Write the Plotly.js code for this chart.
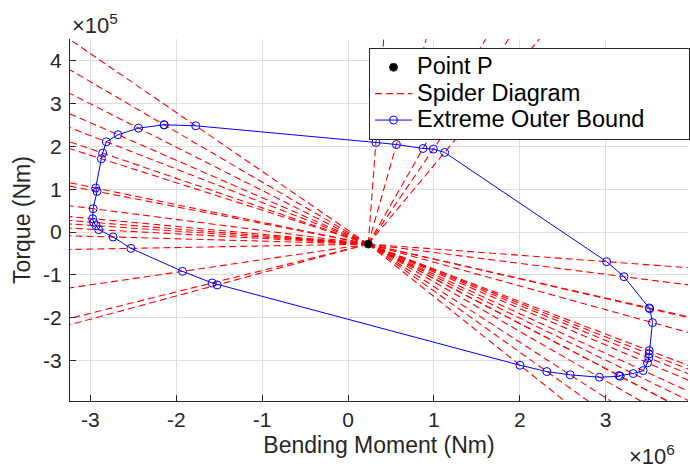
<!DOCTYPE html>
<html>
<head>
<meta charset="utf-8">
<script src="https://cdn.plot.ly/plotly-3.0.1.min.js"></script>
<style>html,body{margin:0;padding:0;background:#fff}#chart{width:690px;height:470px}</style>
</head>
<body>
<div id="chart"></div>
<script>
// Point P (Nm)
var pointX = [2.36e5];
var pointY = [-2.8e4];

// Extreme outer bound (Bending Moment Nm, Torque Nm)
var boundX = [-2.142e6, -1.774e6, 0.325e6, 0.564e6, 0.874e6, 0.994e6, 1.126e6,
  3.012e6, 3.214e6, 3.508e6, 3.515e6, 3.546e6, 3.508e6, 3.508e6, 3.504e6, 3.488e6,
  3.438e6, 3.322e6, 3.156e6, 3.170e6, 2.928e6, 2.588e6, 2.316e6, 2.003e6,
  -1.524e6, -1.582e6, -1.927e6, -2.528e6, -2.737e6, -2.904e6, -2.934e6, -2.962e6,
  -2.974e6, -2.969e6, -2.923e6, -2.939e6, -2.873e6, -2.858e6, -2.815e6, -2.679e6, -2.440e6];
var boundY = [2.506e5, 2.483e5, 2.093e5, 2.046e5, 1.953e5, 1.939e5, 1.860e5,
  -0.691e5, -1.041e5, -1.771e5, -1.790e5, -2.114e5, -2.767e5, -2.844e5, -2.937e5, -3.054e5,
  -3.234e5, -3.304e5, -3.351e5, -3.367e5, -3.390e5, -3.334e5, -3.257e5, -3.110e5,
  -1.234e5, -1.188e5, -0.917e5, -0.380e5, -0.114e5, 0.056e5, 0.149e5, 0.226e5,
  0.313e5, 0.546e5, 0.950e5, 1.029e5, 1.713e5, 1.846e5, 2.109e5, 2.273e5, 2.429e5];

var xTickVals = [-3e6, -2e6, -1e6, 0, 1e6, 2e6, 3e6];
var xTickText = ['-3', '-2', '-1', '0', '1', '2', '3'];
var yTickVals = [-3e5, -2e5, -1e5, 0, 1e5, 2e5, 3e5, 4e5];
var yTickText = ['-3', '-2', '-1', '0', '1', '2', '3', '4'];

// spider rays: from P through each bound point, extended (clipped by axes)
var spX = [], spY = [];
var K = 20;
for (var i = 0; i < boundX.length; i++) {
  spX.push(pointX[0], pointX[0] + K * (boundX[i] - pointX[0]), null);
  spY.push(pointY[0], pointY[0] + K * (boundY[i] - pointY[0]), null);
}
var loopX = boundX.concat([boundX[0]]);
var loopY = boundY.concat([boundY[0]]);

var FONT = 'Liberation Sans, Arial, Helvetica, sans-serif';
function lg(t) { return '<span style="font-size:23.5px">' + t + '</span>'; }

var traces = [
  {x: spX, y: spY, type: 'scatter', mode: 'lines', name: lg('Spider Diagram'),
   line: {color: '#ff0000', width: 1.1, dash: '7px,4px'}, legendrank: 2, hoverinfo: 'skip'},
  {x: loopX, y: loopY, type: 'scatter', mode: 'lines+markers', name: lg('Extreme Outer Bound&nbsp;&nbsp;&nbsp;&nbsp;&nbsp;&nbsp;'),
   line: {color: '#0000ff', width: 1},
   marker: {symbol: 'circle-open', size: 8, color: '#0000ff', line: {width: 1, color: '#0000ff'}},
   legendrank: 3},
  {x: pointX, y: pointY, type: 'scatter', mode: 'markers', name: lg('Point P'),
   marker: {symbol: 'circle', size: 8, color: '#000000', line: {width: 1, color: '#262626'}},
   legendrank: 1}
];

var layout = {
  width: 690, height: 470,
  margin: {l: 70, r: 0, t: 39, b: 69, pad: 0},
  paper_bgcolor: '#ffffff', plot_bgcolor: '#ffffff',
  font: {family: FONT, color: '#262626', size: 20},
  showlegend: true,
  legend: {x: 0.484, y: 0.975, xanchor: 'left', yanchor: 'top',
    bgcolor: '#ffffff', bordercolor: '#262626', borderwidth: 1,
    font: {family: FONT, size: 18, color: '#000000'}, traceorder: 'normal', itemwidth: 37},
  xaxis: {range: [-3.238e6, 3.96e6], tickvals: xTickVals, ticktext: xTickText,
    showgrid: true, gridcolor: '#dfdfdf', gridwidth: 1, zeroline: false,
    showline: true, linecolor: '#262626', linewidth: 1, mirror: false,
    ticks: 'inside', ticklen: 6, tickcolor: '#262626',
    tickfont: {family: FONT, size: 21, color: '#262626'},
    title: {text: 'Bending Moment (Nm)', font: {family: FONT, size: 23, color: '#262626'}, standoff: 6}},
  yaxis: {range: [-3.945e5, 4.51e5], tickvals: yTickVals, ticktext: yTickText,
    showgrid: true, gridcolor: '#dfdfdf', gridwidth: 1, zeroline: false,
    showline: true, linecolor: '#262626', linewidth: 1, mirror: false,
    ticks: 'inside', ticklen: 6, tickcolor: '#262626', ticklabelstandoff: 3,
    tickfont: {family: FONT, size: 21, color: '#262626'},
    title: {text: 'Torque (Nm)', font: {family: FONT, size: 23, color: '#262626'}, standoff: 6}},
  annotations: [
    {xref: 'paper', yref: 'paper', x: 0.0, y: 1.042, xanchor: 'left', yanchor: 'middle',
     text: '×10<sup>5</sup>', showarrow: false, font: {family: FONT, size: 22, color: '#262626'}},
    {xref: 'paper', yref: 'paper', x: 0.902, y: -0.15, xanchor: 'left', yanchor: 'middle',
     text: '×10<sup>6</sup>', showarrow: false, font: {family: FONT, size: 22, color: '#262626'}}
  ]
};

Plotly.newPlot('chart', traces, layout, {displayModeBar: false, staticPlot: true});
</script>
</body>
</html>
